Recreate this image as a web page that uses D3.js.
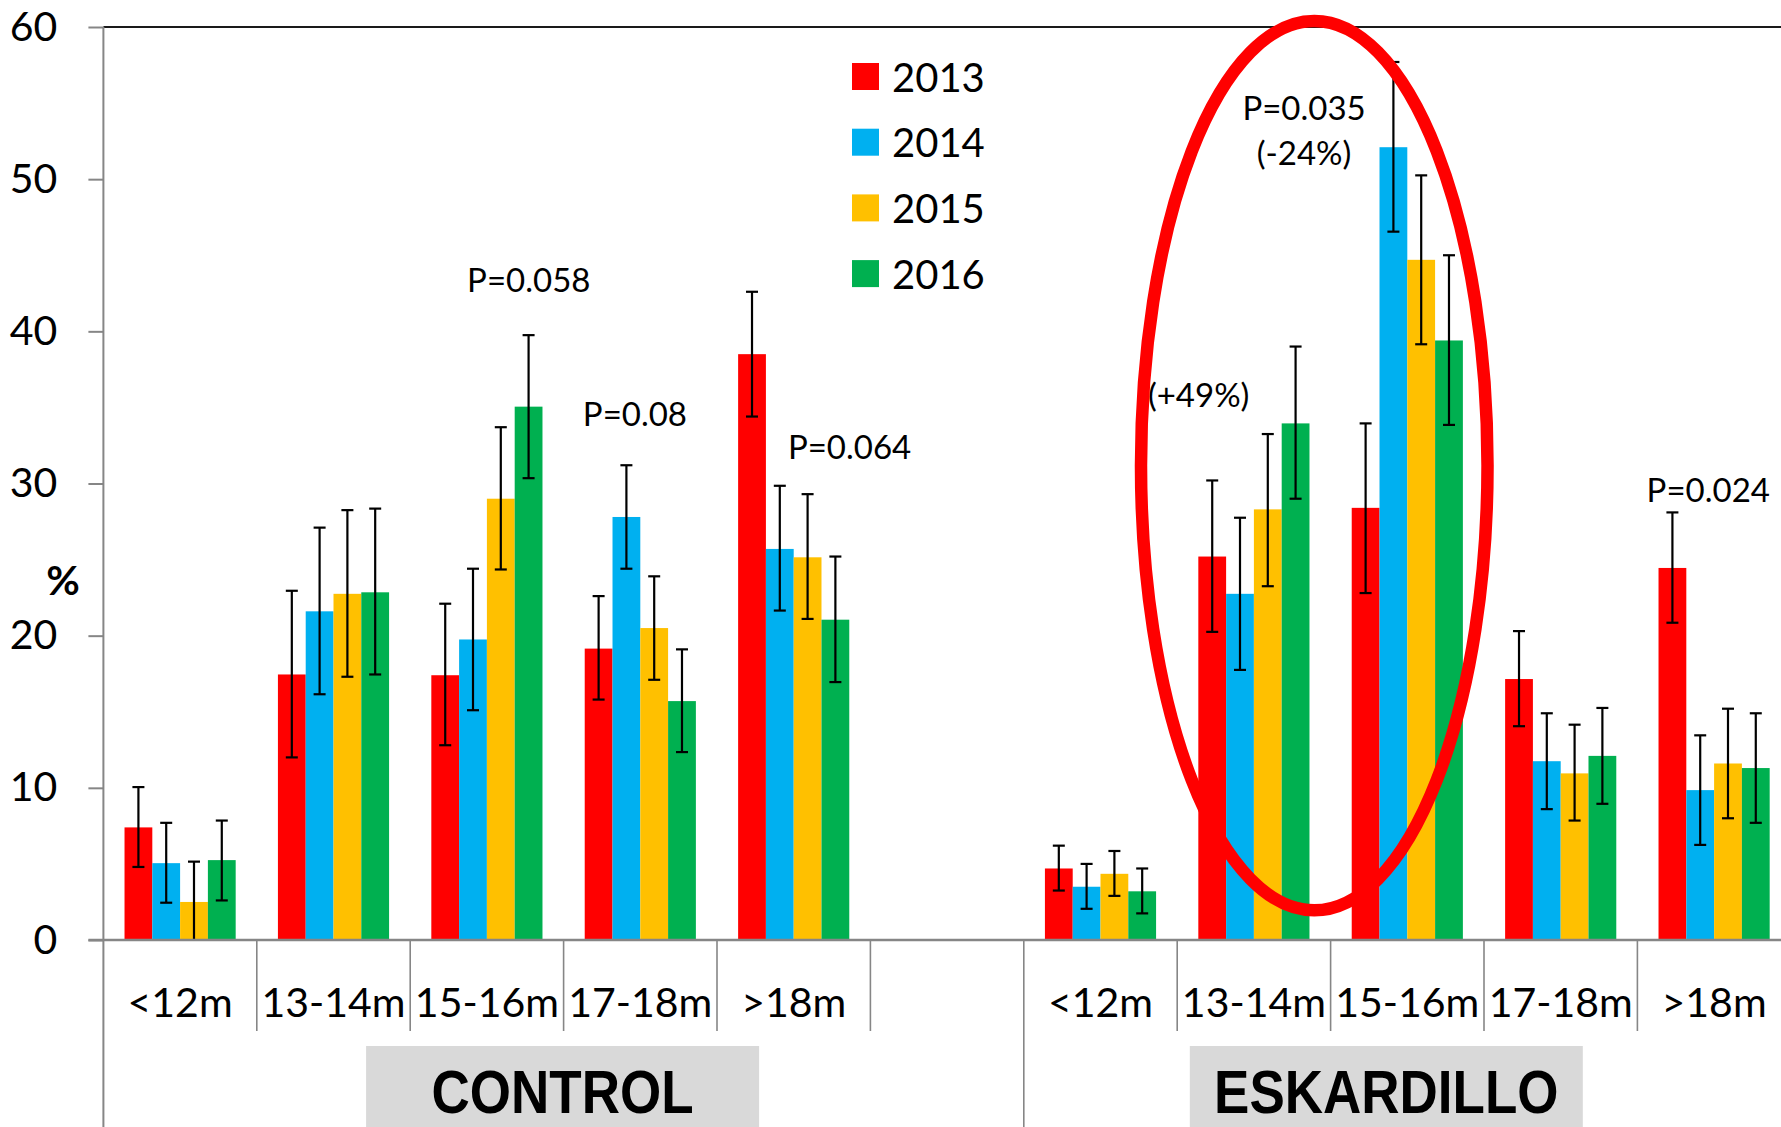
<!DOCTYPE html>
<html>
<head>
<meta charset="utf-8">
<script src="https://cdn.jsdelivr.net/npm/d3@7"></script>
<style>
  html, body { margin: 0; padding: 0; background: #fff; }
  svg { display: block; }
</style>
</head>
<body>
<svg id="chart" width="1781" height="1127"></svg>
<script>
// ---------------- DATA ----------------
const years = ["2013", "2014", "2015", "2016"];
const seriesColors = ["#FF0000", "#00B0F0", "#FFC000", "#00B050"];
const ageLabels = ["<12m", "13-14m", "15-16m", "17-18m", ">18m"];
const groupNames = ["CONTROL", "ESKARDILLO"];
const yTicks = [0, 10, 20, 30, 40, 50, 60];

// values: CONTROL (5 age classes) then ESKARDILLO (5 age classes)
const values2013 = [7.4, 17.45, 17.4, 19.15, 38.5, 4.7, 25.2, 28.4, 17.15, 24.45];
const values2014 = [5.05, 21.6, 19.75, 27.8, 25.7, 3.5, 22.75, 52.1, 11.75, 9.85];
const values2015 = [2.5, 22.75, 29.0, 20.5, 25.15, 4.35, 28.3, 44.7, 10.95, 11.6];
const values2016 = [5.25, 22.85, 35.05, 15.7, 21.05, 3.2, 33.95, 39.4, 12.1, 11.3];

// error bar upper bounds
const upper2013 = [10.05, 22.95, 22.1, 22.6, 42.6, 6.2, 30.2, 33.95, 20.3, 28.1];
const upper2014 = [7.7, 27.1, 24.4, 31.2, 29.85, 5.0, 27.75, 57.7, 14.9, 13.45];
const upper2015 = [5.15, 28.25, 33.7, 23.9, 29.3, 5.85, 33.25, 50.25, 14.15, 15.2];
const upper2016 = [7.85, 28.35, 39.75, 19.1, 25.2, 4.7, 39.0, 45.0, 15.25, 14.9];
// error bar lower bounds
const lower2013 = [4.8, 12.0, 12.8, 15.8, 34.4, 3.25, 20.25, 22.8, 14.05, 20.85];
const lower2014 = [2.45, 16.15, 15.1, 24.4, 21.65, 2.05, 17.75, 46.55, 8.6, 6.25];
const lower2015 = [0, 17.3, 24.35, 17.1, 21.1, 2.9, 23.25, 39.15, 7.85, 8.0];
const lower2016 = [2.6, 17.45, 30.35, 12.35, 16.95, 1.75, 29.0, 33.85, 8.95, 7.7];

// annotations: text, slot position (in slot units), value of text baseline
const annoTexts = ["P=0.058", "P=0.08", "P=0.064", "P=0.035", "(-24%)", "(+49%)", "P=0.024"];
const annoSlot  = [2.773, 3.465, 4.864, 7.827, 7.827, 7.140, 10.462];
const annoValue = [42.6, 33.75, 31.64, 53.9, 50.92, 35.02, 28.76];

// ---------------- BUILD ----------------
const seriesValues = [values2013, values2014, values2015, values2016];
const seriesUpper = [upper2013, upper2014, upper2015, upper2016];
const seriesLower = [lower2013, lower2014, lower2015, lower2016];

// slots: 5 control, 1 empty gap, 5 eskardillo
const slotKeys = [];
groupNames.forEach((g, gi) => {
  ageLabels.forEach(a => slotKeys.push(g + "|" + a));
  if (gi === 0) slotKeys.push("gap");
});
const dataSlots = slotKeys.filter(k => k !== "gap");

const svg = d3.select("#chart");
const W = 1781, H = 1127;
const plotLeft = 103.4, plotRight = 1790.8;
const yZero = 940, yTop = 27;

const x0 = d3.scaleBand().domain(slotKeys).range([plotLeft, plotRight]).paddingInner(0).paddingOuter(0);
const x1 = d3.scaleBand().domain(years).range([0, x0.bandwidth()]).paddingInner(0).paddingOuter(0.76);
const y = d3.scaleLinear().domain([0, 60]).range([yZero, yTop]);
const slotPos = d3.scaleLinear().domain([0, slotKeys.length]).range([plotLeft, plotRight]);
const color = d3.scaleOrdinal().domain(years).range(seriesColors);

const FONT = "Lato, 'Open Sans', sans-serif";
const axisGray = "#868686";

// top border line at 60
svg.append("line")
  .attr("x1", plotLeft).attr("x2", W)
  .attr("y1", y(60)).attr("y2", y(60))
  .attr("stroke", "#1a1a1a").attr("stroke-width", 2);

// bars
const rows = [];
dataSlots.forEach((k, i) => {
  years.forEach((yr, s) => {
    rows.push({ key: k, year: yr, v: seriesValues[s][i], hi: seriesUpper[s][i], lo: seriesLower[s][i] });
  });
});

const barG = svg.append("g");
barG.selectAll("rect").data(rows).enter().append("rect")
  .attr("x", d => x0(d.key) + x1(d.year))
  .attr("y", d => y(d.v))
  .attr("width", x1.bandwidth())
  .attr("height", d => y(0) - y(d.v))
  .attr("fill", d => color(d.year));

// error bars
const capW = 12;
const errG = svg.append("g").attr("stroke", "#000").attr("stroke-width", 2.2);
rows.forEach(d => {
  const cx = x0(d.key) + x1(d.year) + x1.bandwidth() / 2;
  errG.append("line").attr("x1", cx).attr("x2", cx).attr("y1", y(d.hi)).attr("y2", y(d.lo));
  errG.append("line").attr("x1", cx - capW / 2).attr("x2", cx + capW / 2).attr("y1", y(d.hi)).attr("y2", y(d.hi));
  if (d.lo > 0.3) {
    errG.append("line").attr("x1", cx - capW / 2).attr("x2", cx + capW / 2).attr("y1", y(d.lo)).attr("y2", y(d.lo));
  }
});

// y axis
const yAxis = d3.axisLeft(y).tickValues(yTicks).tickSize(15).tickPadding(31).tickFormat(d3.format("d"));
const yg = svg.append("g").attr("transform", `translate(${plotLeft},0)`).call(yAxis);
yg.select(".domain").remove();
yg.selectAll(".tick line").attr("stroke", axisGray).attr("stroke-width", 2);
yg.selectAll(".tick text").attr("font-family", FONT).attr("font-size", 41).attr("fill", "#000");

// zero line
svg.append("line")
  .attr("x1", plotLeft - 15).attr("x2", W)
  .attr("y1", y(0)).attr("y2", y(0))
  .attr("stroke", axisGray).attr("stroke-width", 2.5);

// y axis vertical line (full height down to bottom of multi-level axis)
svg.append("line")
  .attr("x1", plotLeft).attr("x2", plotLeft)
  .attr("y1", y(60)).attr("y2", H)
  .attr("stroke", axisGray).attr("stroke-width", 2);

// category dividers
const innerBottom = 1031;
slotKeys.forEach((k, i) => {
  if (i === 0) return;
  const isGroupStart = k === groupNames[1] + "|" + ageLabels[0];
  svg.append("line")
    .attr("x1", x0(k)).attr("x2", x0(k))
    .attr("y1", y(0)).attr("y2", isGroupStart ? H : innerBottom)
    .attr("stroke", axisGray).attr("stroke-width", 1.6);
});

// category labels
svg.append("g").selectAll("text").data(slotKeys.filter(k => k !== "gap")).enter().append("text")
  .attr("x", k => x0(k) + x0.bandwidth() / 2)
  .attr("y", 1016.5)
  .attr("text-anchor", "middle")
  .attr("font-family", FONT).attr("font-size", 41).attr("fill", "#000")
  .text(k => k.split("|")[1]);

// group labels with gray boxes
const groupSpan = [
  [x0(groupNames[0] + "|" + ageLabels[0]), x0(groupNames[1] + "|" + ageLabels[0])],
  [x0(groupNames[1] + "|" + ageLabels[0]), plotRight]
];
const groupNudge = [-1, -21];
const boxW = 393, boxTop = 1046;
groupNames.forEach((g, i) => {
  const cx = (groupSpan[i][0] + groupSpan[i][1]) / 2 + groupNudge[i];
  svg.append("rect")
    .attr("x", cx - boxW / 2).attr("y", boxTop)
    .attr("width", boxW).attr("height", H - boxTop + 5)
    .attr("fill", "#D9D9D9");
  svg.append("text")
    .attr("transform", `translate(${cx},1112.5) scale(1,1.14)`)
    .attr("text-anchor", "middle")
    .attr("font-family", "'Liberation Sans', Arial, sans-serif")
    .attr("font-weight", "bold").attr("font-size", 53).attr("fill", "#000")
    .text(g);
});

// y axis title "%"
svg.append("text")
  .attr("x", 63).attr("y", 595)
  .attr("text-anchor", "middle")
  .attr("font-family", FONT).attr("font-weight", "bold").attr("font-size", 41)
  .attr("fill", "#000")
  .text("%");

// annotations
annoTexts.forEach((t, i) => {
  svg.append("text")
    .attr("x", slotPos(annoSlot[i])).attr("y", y(annoValue[i]))
    .attr("text-anchor", "middle")
    .attr("font-family", FONT).attr("font-size", 33).attr("fill", "#000")
    .text(t);
});

// red ellipse highlighting ESKARDILLO 13-16m
const ellLeft = slotPos(6.764), ellRight = slotPos(9.023);
const ellTopV = 60.4, ellBottomV = 1.95;
svg.append("ellipse")
  .attr("cx", (ellLeft + ellRight) / 2)
  .attr("cy", (y(ellTopV) + y(ellBottomV)) / 2)
  .attr("rx", (ellRight - ellLeft) / 2)
  .attr("ry", (y(ellBottomV) - y(ellTopV)) / 2)
  .attr("fill", "none").attr("stroke", "#FF0000").attr("stroke-width", 12.5);

// legend
const legG = svg.append("g");
years.forEach((yr, i) => {
  const top = 63 + i * 65.7;
  legG.append("rect").attr("x", 852).attr("y", top).attr("width", 27).attr("height", 27).attr("fill", color(yr));
  legG.append("text").attr("x", 892).attr("y", top + 28.5)
    .attr("font-family", FONT).attr("font-size", 40).attr("fill", "#000")
    .text(yr);
});
</script>
</body>
</html>
